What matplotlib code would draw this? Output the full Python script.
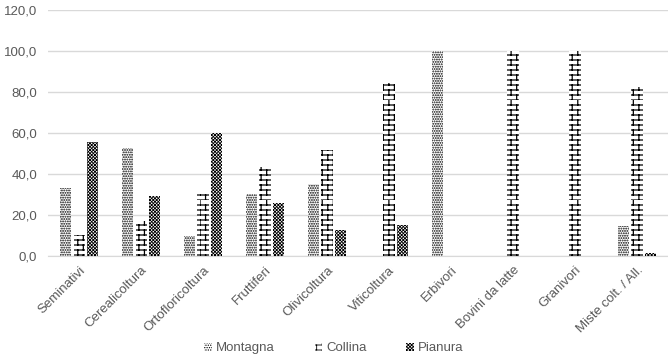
import warnings
import numpy as np
import matplotlib
matplotlib.use('Agg')
import matplotlib.pyplot as plt
import matplotlib.hatch as mhatch
from matplotlib.path import Path
from matplotlib.ticker import FuncFormatter

warnings.filterwarnings('ignore')

categorie = ['Seminativi', 'Cerealicoltura', 'Ortofloricoltura', 'Fruttiferi', 'Olivicoltura',
             'Viticoltura', 'Erbivori', 'Bovini da latte', 'Granivori', 'Miste colt. / All.']
montagna = [33.0, 52.5, 9.5, 30.0, 35.0, 0.0, 100.0, 0.0, 0.0, 14.8]
collina = [10.0, 17.0, 30.0, 43.5, 51.5, 84.3, 0.0, 100.0, 100.0, 82.4]
pianura = [55.5, 29.5, 60.0, 26.0, 12.6, 15.0, 0.0, 0.0, 0.0, 1.2]


# brick hatch, not in matplotlib so registered here ('b')
class BrickHatch(mhatch.HatchPatternBase):
    def __init__(self, hatch, density):
        n = hatch.count('b')
        self.rows = 20 * n
        self.cols = 9 * n
        self.num_vertices = (self.rows * 2 + self.rows * self.cols * 2) if n else 0

    def set_vertices_and_codes(self, vertices, codes):
        k = 0
        for i in range(self.rows):
            y0 = i / self.rows
            y1 = (i + 1) / self.rows
            vertices[k] = (0, y0); codes[k] = Path.MOVETO
            vertices[k + 1] = (1, y0); codes[k + 1] = Path.LINETO
            k += 2
            off = 0.5 if i % 2 == 0 else 0.0
            for j in range(self.cols):
                x = (j + off) / self.cols
                vertices[k] = (x, y0); codes[k] = Path.MOVETO
                vertices[k + 1] = (x, y1); codes[k + 1] = Path.LINETO
                k += 2


mhatch._hatch_types.append(BrickHatch)

plt.rcParams['font.family'] = ['Liberation Sans', 'DejaVu Sans']
plt.rcParams['hatch.linewidth'] = 0.9

fig = plt.figure(figsize=(6.68, 3.63), dpi=100)
ax = fig.add_axes([0.072, 0.295, 0.928, 0.677])

x = np.arange(len(categorie))
w = 0.18
off = 0.22
b1 = ax.bar(x - off, montagna, w, color='white', edgecolor='black', linewidth=0,
            hatch='.......', label='Montagna', zorder=3)
b2 = ax.bar(x, collina, w, color='white', edgecolor='black', linewidth=0,
            hatch='b', label='Collina', zorder=3)
plt.rcParams['hatch.linewidth'] = 0.6
b3 = ax.bar(x + off, pianura, w, color='white', edgecolor='black', linewidth=0,
            hatch='xxxxxxxxxx', label='Pianura', zorder=3)

ax.set_xlim(-0.5, len(categorie) - 0.5)
ax.set_ylim(0, 120)
ax.set_yticks(np.arange(0, 121, 20))
ax.yaxis.set_major_formatter(FuncFormatter(lambda v, p: ('%.1f' % v).replace('.', ',')))
ax.grid(axis='y', color='#d9d9d9', linewidth=1, zorder=0)
for s in ['top', 'right', 'left']:
    ax.spines[s].set_visible(False)
ax.spines['bottom'].set_color('#d9d9d9')
ax.tick_params(axis='both', length=0, colors='#595959', labelsize=9.5)
ax.tick_params(axis='y', pad=8)
ax.set_xticks(x)
ax.set_xticklabels(categorie, rotation=45, ha='right', rotation_mode='anchor')
ax.tick_params(axis='x', pad=6)

leg = fig.legend(handles=[b1, b2, b3], loc='center', bbox_to_anchor=(0.50, 0.04), ncol=3,
                 frameon=False, fontsize=9.5, handlelength=0.6, handleheight=0.6,
                 handletextpad=0.3, columnspacing=3.0)
for t in leg.get_texts():
    t.set_color('#595959')

fig.savefig('out.png', dpi=100)
